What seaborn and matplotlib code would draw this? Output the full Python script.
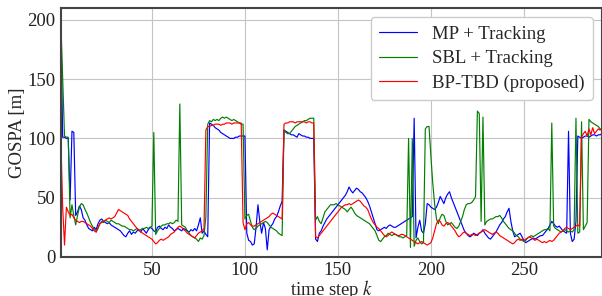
import matplotlib
matplotlib.use("Agg")
import matplotlib.pyplot as plt
import seaborn as sns

# GOSPA error per time step
gospa_mp = [
    200, 101, 101, 100, 100, 48, 106, 105, 35, 38,
    43, 40, 33, 31, 27, 24, 23, 22, 25, 23,
    28, 31, 32, 30, 29, 28, 29, 27, 26, 25,
    24, 23, 22, 20, 18, 17, 20, 22, 19, 21,
    20, 22, 23, 21, 24, 22, 20, 23, 25, 24,
    22, 21, 25, 26, 24, 23, 25, 24, 27, 25,
    24, 22, 23, 24, 23, 22, 24, 23, 22, 21,
    23, 22, 24, 22, 27, 33, 20, 22, 19, 17,
    113, 112, 111, 109, 108, 107, 105, 104, 103, 102,
    101, 100, 100, 100, 101, 101, 102, 102, 102, 102,
    20, 14, 13, 10, 11, 25, 44, 30, 20, 29,
    24, 6, 23, 26, 28, 32, 34, 38, 43, 47,
    107, 106, 105, 104, 103, 103, 102, 101, 104, 103,
    102, 102, 101, 101, 100, 100, 100, 15, 13, 20,
    22, 26, 29, 32, 34, 36, 38, 40, 42, 44,
    46, 48, 50, 52, 55, 59, 56, 54, 56, 58,
    57, 55, 54, 52, 50, 47, 43, 38, 33, 28,
    23, 22, 23, 24, 25, 24, 26, 27, 26, 25,
    25, 26, 27, 28, 29, 30, 31, 32, 33, 34,
    117, 16, 25, 31, 22, 20, 28, 45, 44, 42,
    41, 40, 42, 46, 51, 48, 45, 50, 53, 55,
    50, 46, 42, 38, 34, 30, 26, 22, 20, 18,
    17, 18, 20, 19, 18, 20, 21, 23, 20, 18,
    16, 15, 17, 19, 21, 24, 27, 29, 32, 34,
    38, 41, 30, 22, 17, 18, 19, 20, 17, 14,
    12, 13, 14, 15, 16, 15, 16, 17, 18, 18,
    20, 22, 24, 27, 30, 28, 26, 25, 26, 24,
    22, 21, 20, 106, 20, 13, 15, 30, 102, 101,
    100, 101, 102, 102, 101, 102, 103, 103, 102, 103,
    103, 104,
]

gospa_sbl = [
    200, 150, 102, 101, 101, 33, 44, 35, 27, 35,
    42, 45, 44, 40, 37, 33, 29, 26, 23, 21,
    24, 28, 30, 29, 31, 30, 29, 31, 30, 29,
    28, 28, 27, 26, 26, 25, 24, 23, 23, 22,
    23, 24, 22, 23, 24, 24, 25, 24, 25, 26,
    105, 19, 22, 24, 26, 27, 27, 28, 28, 29,
    28, 29, 31, 30, 129, 27, 26, 25, 22, 20,
    18, 17, 16, 15, 13, 16, 15, 18, 34, 112,
    115, 114, 116, 115, 116, 115, 117, 118, 117, 118,
    117, 116, 115, 116, 115, 114, 113, 112, 112, 32,
    35, 36, 30, 25, 23, 24, 26, 27, 28, 29,
    30, 29, 27, 25, 24, 23, 22, 20, 19, 18,
    107, 105, 104, 104, 106, 108, 110, 111, 112, 113,
    114, 115, 115, 116, 117, 117, 117, 31, 34, 30,
    28, 33, 38, 40, 42, 44, 44, 44, 45, 44,
    43, 42, 41, 40, 38, 40, 42, 40, 37, 35,
    34, 33, 32, 31, 30, 29, 28, 26, 24, 22,
    18, 14, 13, 15, 17, 18, 20, 19, 18, 19,
    19, 18, 17, 17, 16, 17, 18, 100, 8, 100,
    9, 14, 16, 13, 11, 12, 108, 110, 110, 85,
    62, 45, 32, 28, 33, 36, 35, 30, 27, 28,
    29, 27, 25, 24, 26, 30, 34, 40, 44, 45,
    45, 46, 48, 51, 123, 121, 30, 118, 27, 30,
    31, 32, 32, 33, 34, 34, 35, 33, 30, 28,
    26, 24, 23, 22, 20, 18, 17, 15, 14, 13,
    14, 16, 17, 18, 17, 18, 19, 20, 21, 22,
    23, 23, 24, 22, 113, 26, 24, 23, 22, 21,
    22, 23, 22, 21, 22, 21, 23, 117, 20, 21,
    114, 23, 26, 29, 116, 114, 113, 112, 111, 110,
    108, 107,
]

gospa_tbd = [
    100, 42, 10, 42, 38, 35, 36, 33, 31, 30,
    29, 30, 30, 29, 28, 27, 26, 24, 22, 21,
    25, 28, 29, 30, 31, 32, 33, 32, 33, 34,
    37, 40, 39, 38, 37, 36, 35, 32, 30, 28,
    26, 24, 23, 21, 20, 19, 18, 17, 16, 15,
    13, 11, 12, 14, 15, 14, 15, 16, 17, 19,
    20, 21, 23, 25, 26, 25, 23, 22, 20, 19,
    18, 17, 16, 18, 20, 21, 22, 24, 107, 110,
    110, 111, 111, 112, 112, 112, 111, 112, 112, 113,
    113, 113, 112, 113, 113, 113, 113, 113, 29, 23,
    28, 29, 27, 26, 26, 27, 28, 29, 30, 31,
    32, 33, 34, 36, 37, 36, 35, 34, 33, 32,
    112, 113, 113, 114, 114, 114, 113, 114, 114, 114,
    114, 114, 113, 114, 114, 113, 113, 17, 16, 18,
    20, 22, 24, 26, 28, 30, 32, 34, 36, 38,
    40, 42, 43, 44, 44, 45, 44, 45, 46, 47,
    48, 47, 45, 43, 42, 40, 36, 32, 29, 27,
    25, 24, 22, 20, 18, 17, 18, 20, 21, 20,
    19, 18, 18, 19, 19, 18, 17, 16, 15, 14,
    13, 12, 11, 12, 13, 12, 11, 10, 11, 12,
    16, 22, 28, 31, 30, 27, 26, 28, 29, 28,
    26, 24, 22, 19, 17, 18, 20, 21, 20, 19,
    18, 19, 19, 18, 19, 20, 21, 22, 23, 22,
    21, 20, 19, 20, 21, 20, 18, 17, 16, 15,
    14, 13, 12, 11, 12, 14, 15, 14, 15, 14,
    15, 16, 17, 16, 15, 14, 15, 14, 13, 12,
    13, 12, 13, 14, 13, 14, 16, 18, 20, 21,
    22, 24, 25, 24, 23, 24, 25, 26, 27, 26,
    101, 104, 106, 102, 108, 103, 109, 104, 106, 108,
    107, 109,
]

time_step = list(range(1, len(gospa_mp) + 1))
assert len(gospa_mp) == len(gospa_sbl) == len(gospa_tbd) == 292

method_labels = ["MP + Tracking", "SBL + Tracking", "BP-TBD (proposed)"]
x_ticks = [50, 100, 150, 200, 250]
y_ticks = [0, 50, 100, 150, 200]

# --- style ---
sns.set_style("whitegrid", {"grid.color": "#c4c4c4"})
plt.rcParams["font.family"] = ["Liberation Serif", "DejaVu Serif"]
plt.rcParams["mathtext.fontset"] = "stix"
fs = 13.5

fig = plt.figure(figsize=(6.02, 2.96), dpi=100)
ax = fig.add_axes([0.101, 0.132, 0.899, 0.841])

series = [gospa_mp, gospa_sbl, gospa_tbd]
colors = ["blue", "green", "red"]
for vals, lab, col in zip(series, method_labels, colors):
    sns.lineplot(x=time_step, y=vals, ax=ax, color=col, label=lab, linewidth=0.85)

ax.set_xlim(1, 292)
ax.set_ylim(0, 210)
ax.set_xticks(x_ticks)
ax.set_yticks(y_ticks)
ax.tick_params(axis="both", labelsize=fs, length=3, width=1, pad=1, colors="#222222")
ax.set_xlabel("time step $k$", fontsize=fs, labelpad=-1)
ax.set_ylabel("GOSPA [m]", fontsize=fs, labelpad=1)

for sp in ax.spines.values():
    sp.set_color("#444444")
    sp.set_linewidth(1.5)

leg = ax.legend(loc="upper right", fontsize=fs, handlelength=2.0, borderpad=0.45,
                labelspacing=0.38, fancybox=True, framealpha=1.0)
leg.get_frame().set_edgecolor("#cccccc")

fig.savefig("out.png", dpi=100)
